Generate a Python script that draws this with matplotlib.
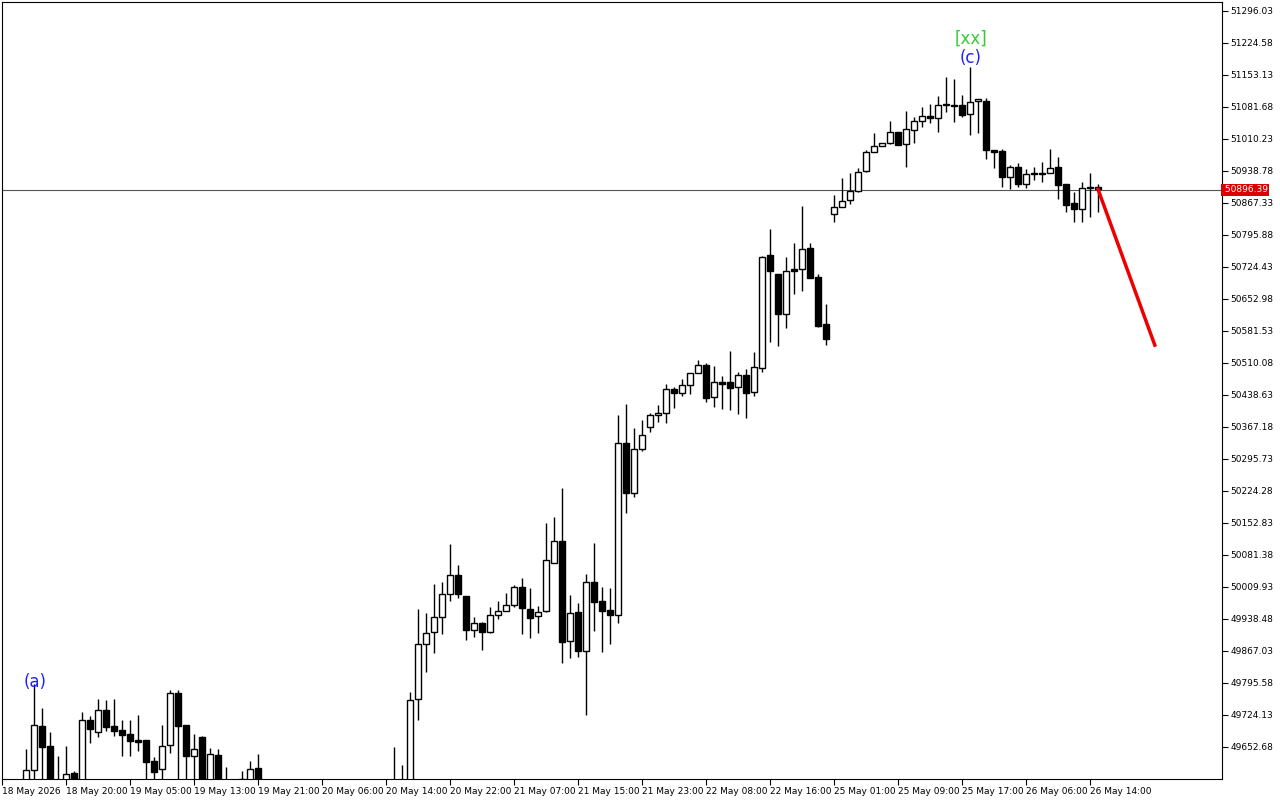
import matplotlib
matplotlib.use("Agg")
import matplotlib.pyplot as plt
from matplotlib.patches import Rectangle
import numpy as np

# OHLC candles, one per bar
opens = [49556, 49601, 49699, 49655, 49568, 49574, 49594, 49568, 49713, 49686,
         49735, 49699, 49690, 49681, 49668, 49668, 49621, 49603, 49657, 49773,
         49701, 49632, 49675, 49556, 49634, 49556, 49534, 49568, 49556, 49605,
         49556, 49510, 49480, 49500, 49490, 49450, 49470, 49460, 49420, 49450,
         49480, 49470, 49500, 49490, 49520, 49540, 49530, 49560, 49575, 49760,
         49882, 49909, 49943, 49994, 50036, 49990, 49914, 49929, 49909, 49947,
         49956, 49969, 50010, 49961, 49945, 49956, 50063, 50112, 49889, 49954,
         49867, 50021, 49978, 49958, 49947, 50331, 50220, 50318, 50367, 50394,
         50398, 50452, 50443, 50461, 50488, 50505, 50434, 50467, 50467, 50456,
         50483, 50445, 50499, 50751, 50709, 50619, 50720, 50720, 50767, 50702,
         50597, 50843, 50858, 50874, 50894, 50939, 50981, 50994, 51001, 51026,
         50999, 51030, 51050, 51061, 51057, 51086, 51086, 51086, 51066, 51095,
         51095, 50985, 50983, 50925, 50947, 50910, 50934, 50934, 50934, 50947,
         50910, 50867, 50854, 50901, 50903]
highs = [49648, 49793, 49739, 49686, 49632, 49655, 49599, 49730, 49722, 49760,
         49757, 49760, 49713, 49713, 49724, 49668, 49630, 49701, 49780, 49780,
         49701, 49681, 49677, 49650, 49648, 49608, 49556, 49599, 49621, 49637,
         49570, 49530, 49520, 49540, 49510, 49490, 49500, 49480, 49470, 49490,
         49520, 49510, 49540, 49530, 49560, 49570, 49652, 49612, 49775, 49961,
         49952, 50016, 50021, 50106, 50059, 49990, 49943, 49931, 49965, 49978,
         49996, 50014, 50030, 50007, 49967, 50153, 50166, 50231, 49992, 49974,
         50039, 50108, 50010, 50007, 50394, 50418, 50365, 50383, 50398, 50416,
         50463, 50456, 50474, 50488, 50517, 50510, 50503, 50481, 50537, 50490,
         50496, 50534, 50749, 50809, 50709, 50747, 50778, 50860, 50778, 50709,
         50642, 50885, 50923, 50934, 50945, 50985, 51023, 51001, 51050, 51026,
         51073, 51059, 51082, 51088, 51106, 51148, 51144, 51108, 51171, 51100,
         51102, 50985, 50988, 50952, 50956, 50943, 50947, 50959, 50988, 50970,
         50910, 50892, 50914, 50934, 50910]
lows = [49534, 49579, 49568, 49534, 49512, 49556, 49545, 49556, 49661, 49675,
        49688, 49677, 49632, 49632, 49643, 49581, 49581, 49581, 49639, 49568,
        49556, 49568, 49545, 49534, 49523, 49512, 49501, 49545, 49545, 49534,
        49490, 49460, 49450, 49470, 49430, 49420, 49440, 49400, 49400, 49430,
        49460, 49450, 49480, 49470, 49500, 49510, 49500, 49540, 49560, 49713,
        49820, 49862, 49905, 49978, 49985, 49891, 49898, 49869, 49907, 49938,
        49956, 49965, 49905, 49896, 49907, 49954, 50063, 49840, 49851, 49853,
        49724, 49911, 49864, 49882, 49929, 50175, 50211, 50313, 50356, 50378,
        50376, 50409, 50436, 50441, 50488, 50423, 50412, 50407, 50405, 50396,
        50388, 50436, 50490, 50557, 50548, 50588, 50664, 50671, 50700, 50590,
        50550, 50825, 50858, 50865, 50892, 50936, 50981, 50994, 50999, 50997,
        50947, 51001, 51037, 51046, 51026, 51070, 51048, 51059, 51019, 51023,
        50965, 50945, 50903, 50898, 50903, 50901, 50918, 50914, 50934, 50876,
        50847, 50825, 50825, 50836, 50847]
closes = [49601, 49701, 49652, 49556, 49534, 49592, 49568, 49713, 49693, 49735,
          49697, 49688, 49679, 49666, 49664, 49619, 49597, 49655, 49773, 49699,
          49632, 49648, 49568, 49637, 49556, 49534, 49512, 49581, 49603, 49556,
          49510, 49480, 49500, 49490, 49450, 49470, 49460, 49420, 49450, 49480,
          49470, 49500, 49490, 49520, 49540, 49530, 49560, 49575, 49757, 49882,
          49907, 49943, 49994, 50036, 49994, 49914, 49929, 49909, 49947, 49956,
          49969, 50010, 49963, 49940, 49954, 50070, 50112, 49887, 49952, 49867,
          50021, 49976, 49956, 49947, 50331, 50220, 50318, 50349, 50394, 50398,
          50452, 50443, 50461, 50488, 50505, 50432, 50467, 50463, 50454, 50483,
          50443, 50501, 50747, 50715, 50619, 50715, 50715, 50764, 50700, 50592,
          50563, 50858, 50872, 50894, 50936, 50981, 50994, 51001, 51026, 50997,
          51032, 51050, 51061, 51057, 51086, 51087, 51085, 51064, 51093, 51100,
          50985, 50981, 50925, 50947, 50910, 50932, 50933, 50933, 50945, 50907,
          50863, 50854, 50901, 50903, 50898]

current_price = 50896.39
forecast_x = [134, 141.1]
forecast_y = [50898, 50550]

y_ticks = [51296.03, 51224.58, 51153.13, 51081.68, 51010.23, 50938.78, 50867.33,
           50795.88, 50724.43, 50652.98, 50581.53, 50510.08, 50438.63, 50367.18,
           50295.73, 50224.28, 50152.83, 50081.38, 50009.93, 49938.48, 49867.03,
           49795.58, 49724.13, 49652.68]
x_tick_pos = [-3 + 8 * k for k in range(18)]
x_tick_labels = ["18 May 2026", "18 May 20:00", "19 May 05:00", "19 May 13:00",
                 "19 May 21:00", "20 May 06:00", "20 May 14:00", "20 May 22:00",
                 "21 May 07:00", "21 May 15:00", "21 May 23:00", "22 May 08:00",
                 "22 May 16:00", "25 May 01:00", "25 May 09:00", "25 May 17:00",
                 "26 May 06:00", "26 May 14:00"]

fig = plt.figure(figsize=(12.8, 8), dpi=100)
ax = fig.add_axes([2 / 1280, 21 / 800, 1220 / 1280, 777 / 800])

w = 0.66
for i in range(len(opens)):
    o, h, l, c = opens[i], highs[i], lows[i], closes[i]
    ax.vlines(i, l, h, color="black", lw=1, zorder=2)
    lo, hi = min(o, c), max(o, c)
    face = "white" if c >= o else "black"
    ax.add_patch(Rectangle((i - w / 2, lo), w, max(hi - lo, 1.5),
                           facecolor=face, edgecolor="black", lw=1, zorder=3))

ax.axhline(current_price, color="#555555", lw=0.8, zorder=1)
ax.plot(forecast_x, forecast_y, color="#ee0000", lw=2.5, zorder=4)

ax.text(1.1, 49778, "(a)", color="#2020ff", fontsize=12, ha="center", va="bottom")
ax.text(118.1, 51170, "(c)", color="#2020ff", fontsize=12, ha="center", va="bottom")
ax.text(118.1, 51214, "[xx]", color="#33cc33", fontsize=12, ha="center", va="bottom")

ax.set_xlim(-3, 149.5)
ax.set_ylim(49581.2, 51316.1)
ax.yaxis.tick_right()
ax.set_yticks(y_ticks)
ax.set_yticklabels([f"{v:.2f}" for v in y_ticks], fontsize=6.5)
ax.set_xticks(x_tick_pos)
ax.set_xticklabels(x_tick_labels, fontsize=6.5, ha="left")
ax.tick_params(axis="both", length=4, width=0.8, pad=2)
for s in ax.spines.values():
    s.set_linewidth(0.8)

ax.text(1.0, current_price, f" {current_price:.2f}", transform=ax.get_yaxis_transform(),
        fontsize=6.5, color="white", va="center", ha="left",
        bbox=dict(boxstyle="square,pad=0.15", fc="#dd0000", ec="none"))

fig.savefig("out.png", dpi=100)
